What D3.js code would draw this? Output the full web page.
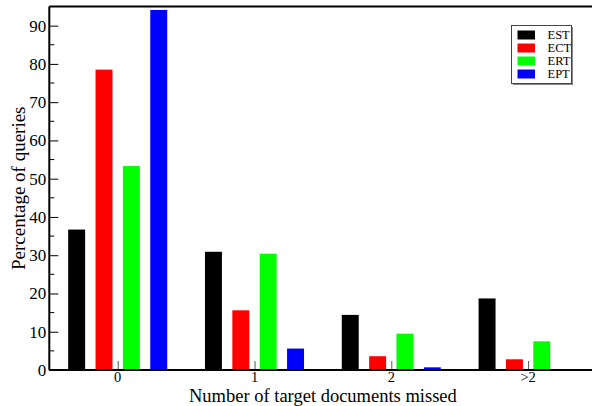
<!DOCTYPE html>
<html>
<head>
<meta charset="utf-8">
<script src="https://cdn.jsdelivr.net/npm/d3@7"></script>
<style>
  body { margin: 0; background: #fff; }
</style>
</head>
<body>
<div class="chart"></div>
<script>
const categories = ['0', '1', '2', '>2'];
const seriesNames = ['EST', 'ECT', 'ERT', 'EPT'];
const seriesColors = ['#000000', '#ff0000', '#00ff00', '#0000ff'];
const EST = [36.7, 30.9, 14.4, 18.7];
const ECT = [78.5, 15.6, 3.6, 2.8];
const ERT = [53.3, 30.4, 9.5, 7.5];
const EPT = [94.1, 5.6, 0.7, 0.1];
const yTicks = [0, 10, 20, 30, 40, 50, 60, 70, 80, 90];

const series = [EST, ECT, ERT, EPT];

const width = 592, height = 406;
const serif = '"Liberation Serif", "Times New Roman", Tinos, "DejaVu Serif", serif';

const svg = d3.select('.chart')
  .append('svg')
  .attr('width', width)
  .attr('height', height)
  .attr('font-family', serif);

// right end of the frame is outside the picture
const x = d3.scaleLinear()
  .domain([-0.5, 3.5])
  .range([49.3, 596.5]);

const y = d3.scaleLinear()
  .domain([0, 95])
  .range([370, 6.5]);

const barStep = 0.2, barW = 0.124;

// bars
series.forEach(function(vals, s) {
  svg.append('g')
    .selectAll('rect')
    .data(vals)
    .enter()
    .append('rect')
    .attr('x', (d, i) => x(i + (s - 1.5) * barStep - barW / 2))
    .attr('width', x(barW) - x(0))
    .attr('y', d => y(d))
    .attr('height', d => y(0) - y(d))
    .style('fill', seriesColors[s]);
});

// top of frame
svg.append('line')
  .attr('x1', x(-0.5)).attr('x2', width + 5)
  .attr('y1', y(95)).attr('y2', y(95))
  .style('stroke', '#000').style('stroke-width', 2);

// y axis
const yAxis = d3.axisRight(y)
  .tickValues(yTicks)
  .tickSize(9)
  .tickFormat('');
const yg = svg.append('g')
  .attr('transform', 'translate(' + x(-0.5) + ',0)')
  .call(yAxis);
yg.select('.domain').remove();
yg.selectAll('line').style('stroke', '#000').style('stroke-width', 1);

svg.append('g')
  .selectAll('line')
  .data(d3.range(5, 95, 10))
  .enter()
  .append('line')
  .attr('x1', x(-0.5)).attr('x2', x(-0.5) + 5)
  .attr('y1', d => y(d)).attr('y2', d => y(d))
  .style('stroke', '#000');

svg.append('g')
  .selectAll('text')
  .data(yTicks)
  .enter()
  .append('text')
  .attr('x', x(-0.5) - 3)
  .attr('y', d => y(d) + 6)
  .attr('text-anchor', 'end')
  .style('font-size', '17px')
  .text(d => d);

// x axis ticks
const xAxis = d3.axisTop(x)
  .tickValues([0, 1, 2, 3])
  .tickSize(9)
  .tickFormat('');
const xg = svg.append('g')
  .attr('transform', 'translate(0,' + y(0) + ')')
  .call(xAxis);
xg.select('.domain').remove();
xg.selectAll('line').style('stroke', '#555').style('stroke-width', 1);

svg.append('g')
  .selectAll('text')
  .data(categories)
  .enter()
  .append('text')
  .attr('x', (d, i) => x(i))
  .attr('y', 382)
  .attr('text-anchor', 'middle')
  .style('font-size', '14.5px')
  .text(d => d);

// axis lines
svg.append('line')
  .attr('x1', x(-0.5)).attr('x2', x(-0.5))
  .attr('y1', y(95)).attr('y2', y(0))
  .style('stroke', '#000').style('stroke-width', 2);
svg.append('line')
  .attr('x1', x(-0.5)).attr('x2', width + 5)
  .attr('y1', y(0)).attr('y2', y(0))
  .style('stroke', '#000').style('stroke-width', 2);

// titles
svg.append('text')
  .attr('x', x(1.5))
  .attr('y', 401.8)
  .attr('text-anchor', 'middle')
  .style('font-size', '18.5px')
  .text('Number of target documents missed');

svg.append('text')
  .attr('transform', 'translate(25,' + y(47.5) + ') rotate(-90)')
  .attr('text-anchor', 'middle')
  .style('font-size', '19px')
  .text('Percentage of queries');

// legend
const lg = svg.append('g').attr('transform', 'translate(511.5,25.5)');
lg.append('rect')
  .attr('x', 1.5).attr('y', 1.5)
  .attr('width', 60).attr('height', 58)
  .style('fill', '#888');
lg.append('rect')
  .attr('width', 60).attr('height', 58)
  .style('fill', '#fff')
  .style('stroke', '#444')
  .style('stroke-width', 1);
seriesNames.forEach(function(name, i) {
  lg.append('rect')
    .attr('x', 6).attr('y', 5 + i * 13)
    .attr('width', 17.5).attr('height', 9)
    .style('fill', seriesColors[i]);
  lg.append('text')
    .attr('x', 36).attr('y', 13.5 + i * 13)
    .style('font-size', '12.5px')
    .text(name);
});
</script>
</body>
</html>
